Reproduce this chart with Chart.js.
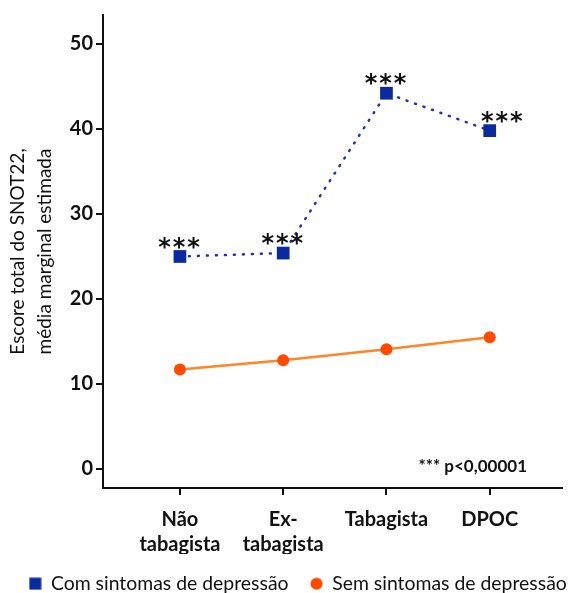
<!DOCTYPE html>
<html>
<head>
<meta charset="utf-8">
<script src="https://cdn.jsdelivr.net/npm/chart.js@4.4.1/dist/chart.umd.min.js"></script>
<style>
  html, body { margin: 0; padding: 0; background: #fff; }
  #wrap { width: 574px; height: 593px; }
</style>
</head>
<body>
<div id="wrap"><canvas id="chart"></canvas></div>
<script>
const categories = [['Não', 'tabagista'], ['Ex-', 'tabagista'], 'Tabagista', 'DPOC'];
const comDepressao = [25.0, 25.4, 44.2, 39.8];
const semDepressao = [11.7, 12.8, 14.1, 15.5];
const significance = ['***', '***', '***', '***'];
const yTicks = [0, 10, 20, 30, 40, 50];

const FONT = 'Lato, "Open Sans", sans-serif';

// small legend markers, same size for square and circle
function marker(kind, color) {
  const c = document.createElement('canvas');
  c.width = 13; c.height = 13;
  const g = c.getContext('2d');
  g.fillStyle = color;
  if (kind === 'rect') g.fillRect(0.5, 0.5, 12, 12);
  else { g.beginPath(); g.arc(6.5, 6.5, 6, 0, Math.PI * 2); g.fill(); }
  return c;
}
const legendMarkers = [marker('rect', '#0a2a9e'), marker('circle', '#ff4a00')];

const starsPlugin = {
  id: 'stars',
  afterInit(chart) {
    // one legend row, low and a bit wider than the canvas padding allows
    const legend = chart.legend;
    const fit = legend.fit;
    legend.fit = function () {
      this.maxWidth = 640;
      fit.call(this);
      this.height = 39;
    };
  },
  afterLayout(chart) {
    const lg = chart.legend;
    lg.left = 0;
    lg.right = 596;
    lg.width = 596;
    lg.top = chart.height - 41;
    lg.bottom = chart.height;
  },
  afterDatasetsDraw(chart) {
    const { ctx, chartArea } = chart;
    const meta = chart.getDatasetMeta(0);
    ctx.save();
    ctx.fillStyle = '#111';
    ctx.font = 'bold 24px "DejaVu Sans", sans-serif';
    ctx.textAlign = 'center';
    ctx.textBaseline = 'middle';
    meta.data.forEach((pt, i) => {
      const dx = i === categories.length - 1 ? 12 : -1;
      const chars = significance[i].split('');
      chars.forEach((c, k) => {
        ctx.fillText(c, pt.x + dx + (k - (chars.length - 1) / 2) * 14.5, pt.y - 8);
      });
    });
    ctx.font = 'bold 17px ' + FONT;
    ctx.textAlign = 'right';
    ctx.fillText('*** p<0,00001', chartArea.right - 35, chartArea.bottom - 21);
    ctx.restore();
  }
};

const ctx = document.getElementById('chart').getContext('2d');
new Chart(ctx, {
  type: 'line',
  data: {
    datasets: [
      {
        label: 'Com sintomas de depressão',
        data: comDepressao.map((v, i) => ({ x: i, y: v })),
        borderColor: '#2233aa',
        backgroundColor: '#0a2a9e',
        borderWidth: 2.5,
        borderDash: [1, 8],
        borderCapStyle: 'round',
        pointStyle: 'rect',
        pointRadius: 9,
        pointHoverRadius: 9,
        pointBorderWidth: 0,
        tension: 0
      },
      {
        label: 'Sem sintomas de depressão',
        data: semDepressao.map((v, i) => ({ x: i, y: v })),
        borderColor: '#ff8526',
        backgroundColor: '#ff4a00',
        borderWidth: 2.5,
        pointStyle: 'circle',
        pointRadius: 6,
        pointHoverRadius: 6,
        pointBorderWidth: 0,
        tension: 0
      }
    ]
  },
  options: {
    responsive: true,
    maintainAspectRatio: false,
    animation: false,
    layout: { padding: { top: 14, right: 12, left: 0, bottom: 0 } },
    plugins: {
      legend: {
        position: 'bottom',
        labels: {
          usePointStyle: true,
          boxWidth: 12,
          boxHeight: 12,
          padding: 22,
          color: '#111',
          font: { family: FONT, size: 19.4 },
          generateLabels(chart) {
            const items = Chart.defaults.plugins.legend.labels.generateLabels(chart);
            items.forEach((it, i) => { it.pointStyle = legendMarkers[i]; });
            return items;
          }
        }
      },
      tooltip: { enabled: false }
    },
    scales: {
      x: {
        type: 'linear',
        min: -0.745,
        max: 3.70,
        afterBuildTicks: s => { s.ticks = categories.map((_, i) => ({ value: i })); },
        afterFit: s => { s.height = 66; },
        ticks: {
          callback: v => categories[v],
          color: '#111',
          padding: 12,
          font: { family: FONT, size: 20, weight: 'bold', lineHeight: 1.25 },
          maxRotation: 0
        },
        grid: { drawOnChartArea: false, color: '#111', lineWidth: 2, tickLength: 7 },
        border: { color: '#111', width: 2 }
      },
      y: {
        min: -2.23,
        max: 53.4,
        afterBuildTicks: s => { s.ticks = yTicks.map(v => ({ value: v })); },
        afterFit: s => { s.width = 103; },
        ticks: {
          color: '#111',
          padding: 3,
          font: { family: FONT, size: 20, weight: 'bold' }
        },
        grid: { drawOnChartArea: false, color: '#111', lineWidth: 2, tickLength: 7 },
        border: { color: '#111', width: 2 },
        title: {
          display: true,
          text: ['Escore total do SNOT22,', 'média marginal estimada'],
          color: '#111',
          font: { family: FONT, size: 19, lineHeight: 1.42 },
          padding: { top: 4, bottom: 0 }
        }
      }
    }
  },
  plugins: [starsPlugin]
});
</script>
</body>
</html>
